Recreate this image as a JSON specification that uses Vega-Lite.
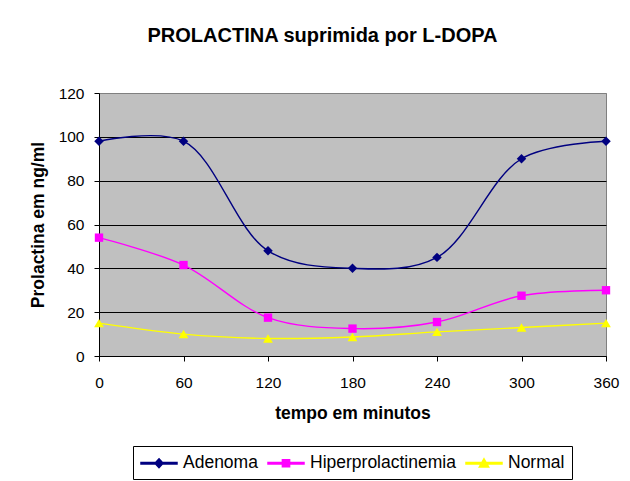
{
  "$schema": "https://vega.github.io/schema/vega-lite/v6.json",
  "width": 507,
  "height": 263,
  "autosize": "none",
  "padding": {"left": 99, "top": 93, "right": 24, "bottom": 125},
  "background": "white",
  "title": {
    "text": "PROLACTINA suprimida por L-DOPA",
    "fontSize": 20,
    "fontWeight": "bold",
    "font": "Liberation Sans",
    "color": "black",
    "baseline": "alphabetic",
    "offset": 24,
    "dx": -30,
    "anchor": "middle"
  },
  "config": {
    "font": "Liberation Sans",
    "view": {"fill": "#C0C0C0", "stroke": "#808080", "strokeWidth": 1}
  },
  "data": {
    "values": [
      {"t": 0, "v": 98, "s": "Adenoma"},
      {"t": 60, "v": 98, "s": "Adenoma"},
      {"t": 120, "v": 48, "s": "Adenoma"},
      {"t": 180, "v": 40, "s": "Adenoma"},
      {"t": 240, "v": 45, "s": "Adenoma"},
      {"t": 300, "v": 90, "s": "Adenoma"},
      {"t": 360, "v": 98, "s": "Adenoma"},
      {"t": 0, "v": 54, "s": "Hiperprolactinemia"},
      {"t": 60, "v": 41.5, "s": "Hiperprolactinemia"},
      {"t": 120, "v": 17.5, "s": "Hiperprolactinemia"},
      {"t": 180, "v": 12.5, "s": "Hiperprolactinemia"},
      {"t": 240, "v": 15.5, "s": "Hiperprolactinemia"},
      {"t": 300, "v": 27.5, "s": "Hiperprolactinemia"},
      {"t": 360, "v": 30, "s": "Hiperprolactinemia"},
      {"t": 0, "v": 15, "s": "Normal"},
      {"t": 60, "v": 10, "s": "Normal"},
      {"t": 120, "v": 8, "s": "Normal"},
      {"t": 180, "v": 8.7, "s": "Normal"},
      {"t": 240, "v": 11, "s": "Normal"},
      {"t": 300, "v": 13, "s": "Normal"},
      {"t": 360, "v": 15, "s": "Normal"}
    ]
  },
  "encoding": {
    "x": {
      "field": "t",
      "type": "quantitative",
      "scale": {"domain": [0, 360], "nice": false},
      "axis": {
        "values": [0, 60, 120, 180, 240, 300, 360],
        "grid": false,
        "title": "tempo em minutos",
        "titleFontSize": 17.5,
        "titleFontWeight": "bold",
        "titleColor": "black",
        "titlePadding": 14,
        "labelFontSize": 15.5,
        "labelColor": "black",
        "labelPadding": 14,
        "labelFlush": false,
        "tickSize": 5,
        "tickColor": "black",
        "domainColor": "black"
      }
    },
    "y": {
      "field": "v",
      "type": "quantitative",
      "scale": {"domain": [0, 120], "nice": false},
      "axis": {
        "values": [0, 20, 40, 60, 80, 100, 120],
        "grid": true,
        "gridColor": {"condition": {"test": "datum.value == 120", "value": "#808080"}, "value": "black"},
        "gridOpacity": 1,
        "gridWidth": 1,
        "title": "Prolactina em ng/ml",
        "titleFontSize": 17.5,
        "titleFontWeight": "bold",
        "titleColor": "black",
        "titlePadding": 11,
        "labelFontSize": 15.5,
        "labelColor": "black",
        "labelPadding": 10,
        "tickSize": 5,
        "tickColor": "black",
        "domainColor": "black"
      }
    },
    "color": {
      "field": "s",
      "type": "nominal",
      "scale": {
        "domain": ["Adenoma", "Hiperprolactinemia", "Normal"],
        "range": ["#000080", "#FF00FF", "#FFFF00"]
      },
      "legend": {
        "title": null,
        "orient": "none",
        "legendX": 34,
        "legendY": 353,
        "direction": "horizontal",
        "padding": 7,
        "strokeColor": "black",
        "fillColor": "white",
        "labelFontSize": 17.5,
        "labelColor": "black",
        "symbolSize": 324,
        "symbolOffset": 9,
        "labelOffset": 14,
        "columnPadding": 7,
        "symbolOpacity": 1
      }
    }
  },
  "layer": [
    {
      "mark": {"type": "line", "interpolate": "catmull-rom", "strokeWidth": 1.4}
    },
    {
      "transform": [{"filter": "datum.t < 0"}],
      "mark": {"type": "point", "filled": true, "opacity": 1},
      "encoding": {
        "shape": {
          "field": "s",
          "type": "nominal",
          "scale": {
            "domain": ["Adenoma", "Hiperprolactinemia", "Normal"],
            "range": [
              "M-2,-0.07H2V0.07H-2Z M0,-0.5L0.45,0L0,0.5L-0.45,0Z",
              "M-2,-0.07H2V0.07H-2Z M-0.4,-0.4H0.4V0.4H-0.4Z",
              "M-2,-0.07H2V0.07H-2Z M0,-0.5L0.52,0.42L-0.52,0.42Z"
            ]
          },
          "legend": null
        }
      }
    },
    {
      "transform": [{"filter": "datum.s === 'Adenoma'"}],
      "mark": {"type": "point", "filled": true, "opacity": 1, "size": 90, "shape": "diamond"}
    },
    {
      "transform": [{"filter": "datum.s === 'Hiperprolactinemia'"}],
      "mark": {"type": "point", "filled": true, "opacity": 1, "size": 70, "shape": "square"}
    },
    {
      "transform": [{"filter": "datum.s === 'Normal'"}],
      "mark": {"type": "point", "filled": true, "opacity": 1, "size": 95, "shape": "triangle-up"}
    }
  ]
}
